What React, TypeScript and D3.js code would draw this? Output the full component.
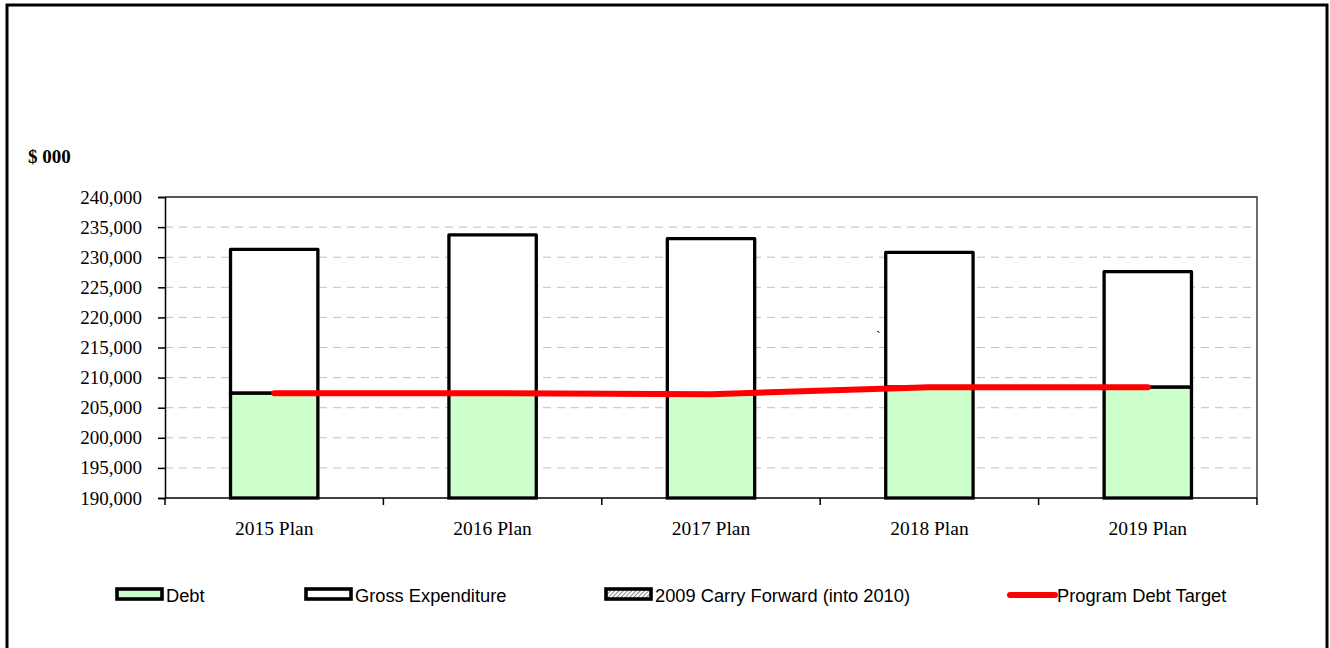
import { useEffect, useRef } from "react";
import * as d3 from "d3";

const categories = ["2015 Plan", "2016 Plan", "2017 Plan", "2018 Plan", "2019 Plan"];
const debt = [207400, 207400, 207250, 208400, 208400];
const grossExpenditure = [231300, 233700, 233100, 230800, 227600];
const debtTarget = [207400, 207400, 207250, 208400, 208400];
const yTicks = [190000, 195000, 200000, 205000, 210000, 215000, 220000, 225000, 230000, 235000, 240000];
const legendItems = ["Debt", "Gross Expenditure", "2009 Carry Forward (into 2010)", "Program Debt Target"];

const W = 1330;
const H = 648;

export default function App() {
  const svgRef = useRef<SVGSVGElement>(null);

  useEffect(() => {
    if (!svgRef.current) return;
    const svg = d3.select(svgRef.current);
    svg.selectAll("*").remove();

    const left = 165;
    const right = 1257;
    const top = 197;
    const bottom = 498;
    const serif = "'Liberation Serif', 'Times New Roman', serif";
    const sans = "'Liberation Sans', Arial, sans-serif";

    const defs = svg.append("defs");
    const pat = defs
      .append("pattern")
      .attr("id", "hatch")
      .attr("width", 3)
      .attr("height", 3)
      .attr("patternUnits", "userSpaceOnUse")
      .attr("patternTransform", "rotate(45)");
    pat.append("rect").attr("width", 3).attr("height", 3).attr("fill", "#fff");
    pat.append("line").attr("x1", 0).attr("y1", 0).attr("x2", 0).attr("y2", 3).attr("stroke", "#555").attr("stroke-width", 1.4);

    // outer frame
    svg
      .append("rect")
      .attr("x", 7)
      .attr("y", 5)
      .attr("width", 1320)
      .attr("height", 660)
      .attr("fill", "#fff")
      .attr("stroke", "#000")
      .attr("stroke-width", 3);

    const x = d3.scaleBand<string>().domain(categories).range([left, right]);
    const y = d3.scaleLinear().domain([190000, 240000]).range([bottom, top]);
    const bw = x.bandwidth() * 0.4;
    const bx = (c: string) => (x(c) ?? 0) + x.bandwidth() * 0.3;

    // grid
    svg
      .append("g")
      .selectAll("line")
      .data(yTicks.slice(1, -1))
      .join("line")
      .attr("x1", left)
      .attr("x2", right)
      .attr("y1", (d) => y(d))
      .attr("y2", (d) => y(d))
      .attr("stroke", "#c0c0c0")
      .attr("stroke-width", 1)
      .attr("stroke-dasharray", "8,6");

    // plot border (top/right)
    svg
      .append("path")
      .attr("d", `M${left},${top}H${right}V${bottom}`)
      .attr("fill", "none")
      .attr("stroke", "#222")
      .attr("stroke-width", 1.3);

    // bars
    const bars = svg.append("g");
    categories.forEach((c, i) => {
      bars
        .append("rect")
        .attr("x", bx(c))
        .attr("y", y(grossExpenditure[i]))
        .attr("width", bw)
        .attr("height", y(debt[i]) - y(grossExpenditure[i]))
        .attr("fill", "#fff")
        .attr("stroke", "#000")
        .attr("stroke-width", 3.3)
        .attr("stroke-linejoin", "round");
      bars
        .append("rect")
        .attr("x", bx(c))
        .attr("y", y(debt[i]))
        .attr("width", bw)
        .attr("height", bottom - y(debt[i]))
        .attr("fill", "#ccffcc")
        .attr("stroke", "#000")
        .attr("stroke-width", 3.3);
    });

    // axes
    const yAxis = d3
      .axisLeft(y)
      .tickValues(yTicks)
      .tickSize(7)
      .tickPadding(16)
      .tickFormat((d) => d3.format(",")(d as number));
    const yg = svg.append("g").attr("transform", `translate(${left},0)`).call(yAxis);
    yg.select(".domain").attr("stroke", "#000").attr("stroke-width", 1.5);
    yg.selectAll(".tick line").attr("stroke", "#000").attr("stroke-width", 1.5);
    yg.selectAll(".tick text")
      .attr("font-family", serif)
      .attr("font-size", 19)
      .attr("fill", "#000");

    const xg = svg.append("g").attr("transform", `translate(0,${bottom})`);
    xg.append("line").attr("x1", left).attr("x2", right).attr("stroke", "#000").attr("stroke-width", 1.5);
    const bounds = [...categories.map((c) => x(c) ?? 0), right];
    xg.selectAll("line.tk")
      .data(bounds)
      .join("line")
      .attr("class", "tk")
      .attr("x1", (d) => d)
      .attr("x2", (d) => d)
      .attr("y1", 0)
      .attr("y2", 7)
      .attr("stroke", "#000")
      .attr("stroke-width", 1.5);
    xg.selectAll("text")
      .data(categories)
      .join("text")
      .attr("x", (d) => (x(d) ?? 0) + x.bandwidth() / 2)
      .attr("y", 37)
      .attr("text-anchor", "middle")
      .attr("font-family", serif)
      .attr("font-size", 19.5)
      .text((d) => d);

    // debt target line
    const line = d3
      .line<number>()
      .x((_, i) => (x(categories[i]) ?? 0) + x.bandwidth() / 2)
      .y((d) => y(d));
    svg
      .append("path")
      .datum(debtTarget)
      .attr("d", line)
      .attr("fill", "none")
      .attr("stroke", "#ff0000")
      .attr("stroke-width", 6)
      .attr("stroke-linecap", "round");

    // unit label
    svg
      .append("text")
      .attr("x", 28)
      .attr("y", 163)
      .attr("font-family", serif)
      .attr("font-weight", "bold")
      .attr("font-size", 19)
      .text("$ 000");

    svg.append("text").attr("x", 876).attr("y", 341).attr("font-family", serif).attr("font-size", 14).text("`");

    // legend
    const lg = svg.append("g").attr("font-family", sans).attr("font-size", 18.3);
    const lx = [117, 306, 606, 1008];
    const ly = 595;
    const sw = (i: number, fill: string) =>
      lg
        .append("rect")
        .attr("x", lx[i])
        .attr("y", ly - 6)
        .attr("width", 45)
        .attr("height", 10)
        .attr("fill", fill)
        .attr("stroke", "#000")
        .attr("stroke-width", 3.6);
    sw(0, "#ccffcc");
    sw(1, "#fff");
    sw(2, "url(#hatch)");
    lg.append("line").attr("x1", lx[3] + 2).attr("x2", lx[3] + 47).attr("y1", ly).attr("y2", ly).attr("stroke", "#ff0000").attr("stroke-width", 6).attr("stroke-linecap", "round");
    legendItems.forEach((t, i) => {
      lg.append("text").attr("x", lx[i] + 49).attr("y", ly + 7).text(t);
    });
  }, []);

  return (
    <svg
      ref={svgRef}
      width={W}
      height={H}
      style={{ position: "absolute", left: 0, top: 0, background: "#fff" }}
    />
  );
}
